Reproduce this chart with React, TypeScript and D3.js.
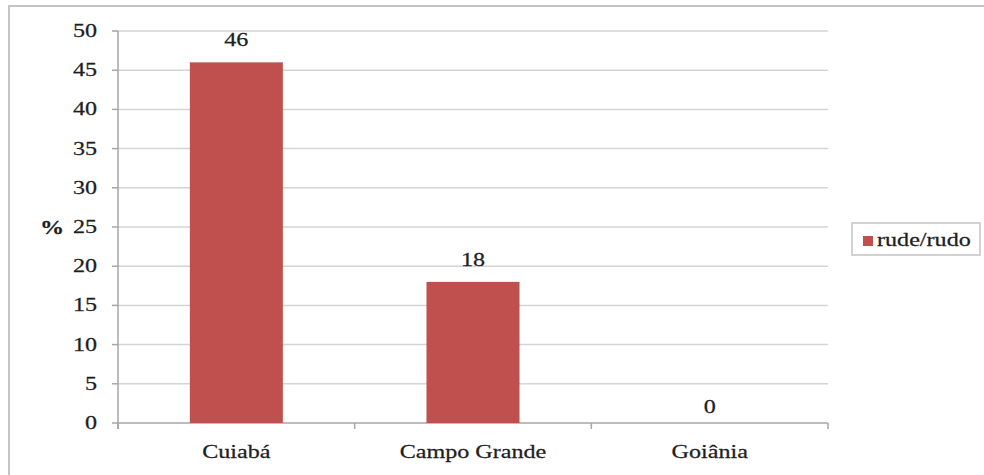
import React from 'react';
import * as d3 from 'd3';

// chart data
const categories = ['Cuiabá', 'Campo Grande', 'Goiânia'];
const values = [46, 18, 0];
const seriesName = 'rude/rudo';
const yTicks = [0, 5, 10, 15, 20, 25, 30, 35, 40, 45, 50];

const W = 984;
const H = 475;
const FONT = 'Liberation Serif';
const SX = 1.27; // the source picture is stretched horizontally
const BAR = '#c0504d';

const STxt = ({ x, y, anchor = 'middle', bold = false, children }) => (
    <text
        transform={`translate(${x},${y}) scale(${SX},1)`}
        textAnchor={anchor}
        fontFamily={FONT}
        fontSize={19}
        fontWeight={bold ? 'bold' : 'normal'}
        fill="#1e1e1e"
        stroke="#1e1e1e"
        strokeWidth={0.25}
    >
        {children}
    </text>
);

const App = () => {
    const plot = { left: 118, right: 828, top: 31, bottom: 423 };

    const x = d3.scaleBand().domain(categories).range([plot.left, plot.right]).padding(0);
    const y = d3.scaleLinear().domain([0, 50]).range([plot.bottom, plot.top]);
    const barW = x.bandwidth() * 0.393;

    const catEdges = [...categories.map(c => x(c)), plot.right];

    return (
        <svg width={W} height={H} style={{ position: 'absolute', left: 0, top: 0, background: '#fff' }}>
            {/* outer frame (cropped on right / bottom) */}
            <rect x={9} y={6} width={1100} height={600} fill="none" stroke="#c4c4c4" strokeWidth={2} />

            {/* gridlines */}
            {yTicks.filter(t => t > 0).map(t => (
                <line key={t} x1={plot.left} x2={plot.right} y1={y(t)} y2={y(t)} stroke="#d4d4d4" strokeWidth={1.5} />
            ))}

            {/* y axis */}
            <line x1={plot.left} x2={plot.left} y1={plot.top} y2={plot.bottom + 6} stroke="#a6a6a6" strokeWidth={1.5} />
            {yTicks.map(t => (
                <g key={t}>
                    <line x1={plot.left - 6} x2={plot.left} y1={y(t)} y2={y(t)} stroke="#a6a6a6" strokeWidth={1.5} />
                    <STxt x={97} y={y(t) + 6} anchor="end">{t}</STxt>
                </g>
            ))}
            <STxt x={52} y={y(25) + 7} bold>%</STxt>

            {/* x axis */}
            <line x1={plot.left} x2={plot.right} y1={plot.bottom} y2={plot.bottom} stroke="#a6a6a6" strokeWidth={1.5} />
            {catEdges.map((e, i) => (
                <line key={i} x1={e} x2={e} y1={plot.bottom} y2={plot.bottom + 6} stroke="#a6a6a6" strokeWidth={1.5} />
            ))}

            {/* bars */}
            {categories.map((c, i) => {
                const cx = x(c) + x.bandwidth() / 2;
                return (
                    <g key={c}>
                        <rect x={cx - barW / 2} y={y(values[i])} width={barW} height={plot.bottom - y(values[i])} fill={BAR} />
                        <STxt x={cx} y={y(values[i]) - (values[i] === 0 ? 10 : 16)}>{values[i]}</STxt>
                        <STxt x={cx} y={458}>{c}</STxt>
                    </g>
                );
            })}

            {/* legend */}
            <rect x={852} y={223} width={128} height={32} fill="#fff" stroke="#c4c4c4" strokeWidth={1.5} />
            <rect x={863} y={236} width={10} height={10} fill={BAR} />
            <STxt x={877} y={246} anchor="start">{seriesName}</STxt>
        </svg>
    );
};

export default App;
